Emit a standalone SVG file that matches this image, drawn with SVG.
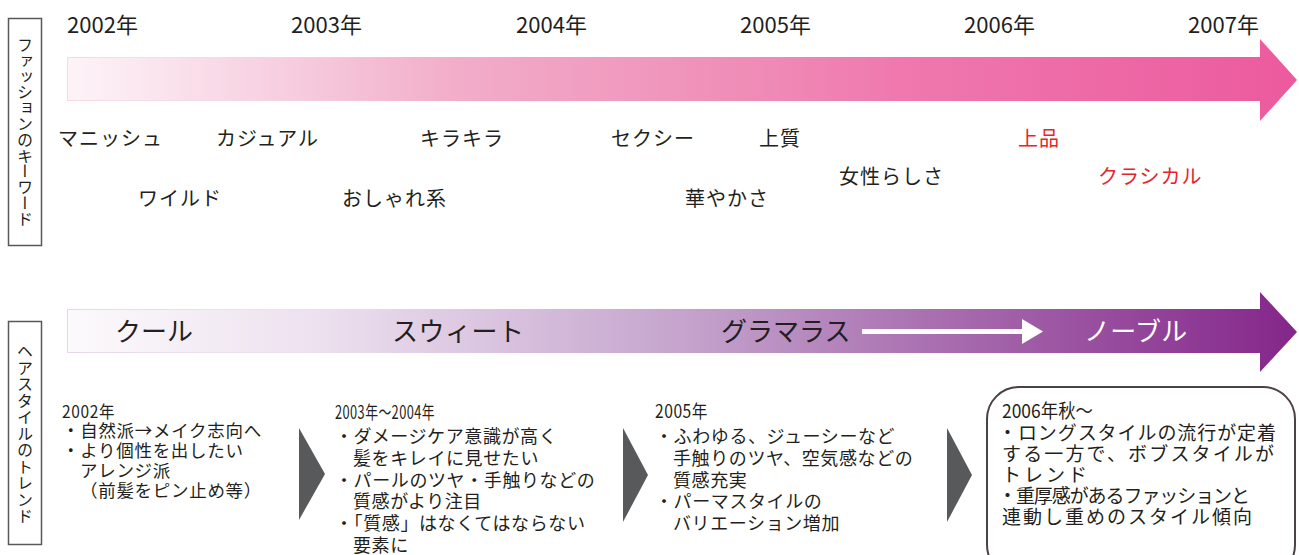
<svg xmlns="http://www.w3.org/2000/svg" width="1299" height="555" viewBox="0 0 1299 555">
<defs>
<linearGradient id="gPink" gradientUnits="userSpaceOnUse" x1="67" y1="0" x2="1297" y2="0">
<stop offset="0" stop-color="#fdf4f8"/>
<stop offset="0.19" stop-color="#f6cbdd"/>
<stop offset="0.31" stop-color="#f2aeca"/>
<stop offset="0.55" stop-color="#ef8db7"/>
<stop offset="0.68" stop-color="#ef78ae"/>
<stop offset="1" stop-color="#ec5a9e"/>
</linearGradient>
<linearGradient id="gPurple" gradientUnits="userSpaceOnUse" x1="67" y1="0" x2="1297" y2="0">
<stop offset="0" stop-color="#fcfafc"/>
<stop offset="0.2" stop-color="#ede1ef"/>
<stop offset="0.35" stop-color="#d9c3df"/>
<stop offset="0.52" stop-color="#c29fca"/>
<stop offset="0.72" stop-color="#a76bae"/>
<stop offset="1" stop-color="#84268a"/>
</linearGradient>
<linearGradient id="gEdgeP" gradientUnits="userSpaceOnUse" x1="67" y1="0" x2="400" y2="0">
<stop offset="0" stop-color="#f3d9e4" stop-opacity="1"/>
<stop offset="1" stop-color="#f3d9e4" stop-opacity="0"/>
</linearGradient>
<linearGradient id="gEdgeV" gradientUnits="userSpaceOnUse" x1="67" y1="0" x2="400" y2="0">
<stop offset="0" stop-color="#e4d8e6" stop-opacity="1"/>
<stop offset="1" stop-color="#e4d8e6" stop-opacity="0"/>
</linearGradient>
<style>
text{font-family:"Noto Sans CJK JP","Noto Sans",sans-serif;fill:#231f20}
.yr{font-size:22px}
.kw{font-size:20px;letter-spacing:1px}
.red{fill:#e8242b}
.big{font-size:26px}
.wh{fill:#ffffff}
.vt{font-size:16px;writing-mode:vertical-rl}
.b1{font-size:17.5px;letter-spacing:0.7px}
.b2{font-size:18px;letter-spacing:0.6px}
.b4{font-size:19px}
.side{fill:#ffffff;stroke:#595757;stroke-width:1.5}
.chev{fill:#58595b}
</style>
</defs>

<g id="fashion-label">
<rect class="side" x="8.5" y="18.5" width="33" height="227"/>
<text class="vt" x="25" y="37" style="letter-spacing:-0.2px">ファッションのキーワード</text>
</g>

<g id="hair-label">
<rect class="side" x="8.5" y="321.5" width="33" height="223"/>
<text class="vt" x="25" y="343" style="letter-spacing:0.5px">ヘアスタイルのトレンド</text>
</g>

<g id="fashion-arrow">
<polygon points="67,57 1260,57 1260,39 1297,80 1260,121 1260,101 67,101" fill="url(#gPink)"/>
<polyline points="400,57.5 67.5,57.5 67.5,100.5 400,100.5" fill="none" stroke="url(#gEdgeP)" stroke-width="1"/>
</g>

<g id="years">
<text class="yr" x="67" y="33" textLength="71" lengthAdjust="spacingAndGlyphs">2002年</text>
<text class="yr" x="291" y="33" textLength="71" lengthAdjust="spacingAndGlyphs">2003年</text>
<text class="yr" x="516" y="33" textLength="71" lengthAdjust="spacingAndGlyphs">2004年</text>
<text class="yr" x="740" y="33" textLength="71" lengthAdjust="spacingAndGlyphs">2005年</text>
<text class="yr" x="964" y="33" textLength="71" lengthAdjust="spacingAndGlyphs">2006年</text>
<text class="yr" x="1188" y="33" textLength="71" lengthAdjust="spacingAndGlyphs">2007年</text>
</g>

<g id="keywords">
<text class="kw" x="58" y="146">マニッシュ</text>
<text class="kw" x="216" y="146">カジュアル</text>
<text class="kw" x="420" y="146">キラキラ</text>
<text class="kw" x="611" y="146">セクシー</text>
<text class="kw" x="759" y="146">上質</text>
<text class="kw red" x="1018" y="146">上品</text>
<text class="kw" x="138" y="206">ワイルド</text>
<text class="kw" x="342" y="206">おしゃれ系</text>
<text class="kw" x="685" y="206">華やかさ</text>
<text class="kw" x="839" y="184">女性らしさ</text>
<text class="kw red" x="1098" y="184">クラシカル</text>
</g>

<g id="hair-arrow">
<polygon points="67,309 1260,309 1260,292 1297,332 1260,372 1260,353 67,353" fill="url(#gPurple)"/>
<polyline points="400,309.5 67.5,309.5 67.5,352.5 400,352.5" fill="none" stroke="url(#gEdgeV)" stroke-width="1"/>
<text class="big" x="115" y="341">クール</text>
<text class="big" x="392" y="341" style="letter-spacing:0.5px">スウィート</text>
<text class="big" x="721" y="341">グラマラス</text>
<text class="big wh" x="1084" y="341" style="letter-spacing:0.3px">ノーブル</text>
</g>

<g id="connectors">
<line x1="862" y1="331.5" x2="1024" y2="331.5" stroke="#ffffff" stroke-width="5"/>
<polygon points="1022,319 1043,331.5 1022,344" fill="#ffffff"/>
<polygon class="chev" points="299,428 325,474 299,520"/>
<polygon class="chev" points="623,428 648,475 623,522"/>
<polygon class="chev" points="947,428 972,475 947,522"/>
</g>

<g id="block-2002">
<text class="b1" x="62" y="418" textLength="53" lengthAdjust="spacingAndGlyphs">2002年</text>
<text class="b1" x="62" y="437">・自然派→メイク志向へ</text>
<text class="b1" x="62" y="457">・より個性を出したい</text>
<text class="b1" x="80" y="477">アレンジ派</text>
<text class="b1" x="80" y="497">（前髪をピン止め等）</text>
</g>

<g id="block-2003">
<text class="b2" x="335" y="419" textLength="100" lengthAdjust="spacingAndGlyphs">2003年～2004年</text>
<text class="b2" x="335" y="443">・ダメージケア意識が高く</text>
<text class="b2" x="353" y="465">髪をキレイに見せたい</text>
<text class="b2" x="335" y="486.5">・パールのツヤ・手触りなどの</text>
<text class="b2" x="353" y="508">質感がより注目</text>
<text class="b2" x="335" y="530">・「質感」はなくてはならない</text>
<text class="b2" x="353" y="552">要素に</text>
</g>

<g id="block-2005">
<text class="b2" x="655" y="418" textLength="53" lengthAdjust="spacingAndGlyphs">2005年</text>
<text class="b2" x="655" y="443">・ふわゆる、ジューシーなど</text>
<text class="b2" x="673" y="465">手触りのツヤ、空気感などの</text>
<text class="b2" x="673" y="486.5">質感充実</text>
<text class="b2" x="655" y="508">・パーマスタイルの</text>
<text class="b2" x="673" y="530">バリエーション増加</text>
</g>

<g id="block-2006">
<rect x="987" y="387" width="308" height="190" rx="32" ry="32" fill="#ffffff" stroke="#4d4145" stroke-width="2"/>
<text class="b4" x="1002" y="418" textLength="91" lengthAdjust="spacingAndGlyphs">2006年秋～</text>
<text class="b4" x="998" y="440" textLength="278">・ロングスタイルの流行が定着</text>
<text class="b4" x="1002" y="461" textLength="272">する一方で、ボブスタイルが</text>
<text class="b4" x="1002" y="482" style="letter-spacing:3px">トレンド</text>
<text class="b4" x="998" y="503" textLength="252">・重厚感があるファッションと</text>
<text class="b4" x="1002" y="524" textLength="250">連動し重めのスタイル傾向</text>
</g>
</svg>
